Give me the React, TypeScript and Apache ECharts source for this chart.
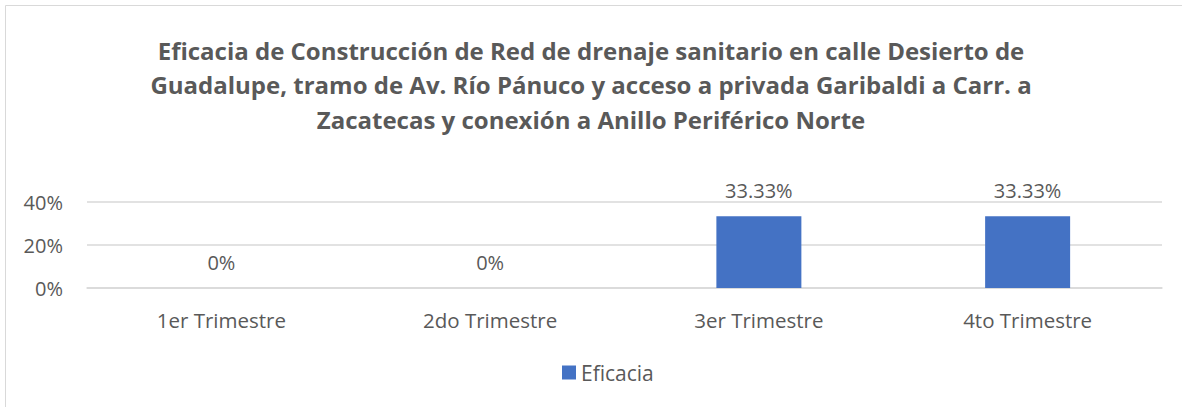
import React, { useEffect, useRef } from "react";
import * as echarts from "echarts";

const categories = ["1er Trimestre", "2do Trimestre", "3er Trimestre", "4to Trimestre"];
const eficacia = [0, 0, 33.33, 33.33];
const titleLines = [
  "Eficacia de Construcción de Red de drenaje sanitario en calle Desierto de",
  "Guadalupe, tramo de Av. Río Pánuco y acceso a privada Garibaldi a Carr. a",
  "Zacatecas y conexión a Anillo Periférico Norte",
];
const seriesName = "Eficacia";

const FONT = "'Open Sans', 'Noto Sans', sans-serif";
const GRAY = "#595959";

export default function App() {
  const ref = useRef<HTMLDivElement>(null);
  useEffect(() => {
    document.body.style.margin = "0";
    if (!ref.current) return;
    const chart = echarts.init(ref.current, null, { renderer: "svg" });
    chart.setOption({
      animation: false,
      backgroundColor: "#ffffff",
      title: {
        text: titleLines.join("\n"),
        left: "center",
        top: 28,
        textStyle: {
          fontFamily: FONT,
          fontSize: 24,
          fontWeight: "bold",
          color: GRAY,
          lineHeight: 34.5,
        },
      },
      graphic: [
        {
          type: "rect",
          shape: { x: 5.5, y: 5.5, width: 1400, height: 600 },
          style: { fill: "none", stroke: "#d9d9d9", lineWidth: 1 },
          silent: true,
          z: -1,
        },
      ],
      legend: {
        bottom: 19,
        left: 557,
        itemWidth: 14,
        itemHeight: 14,
        itemGap: 6,
        icon: "rect",
        textStyle: { fontFamily: FONT, fontSize: 21, color: GRAY },
        data: [seriesName],
      },
      grid: { left: 87, right: 20, top: 202, bottom: 119, containLabel: false },
      xAxis: {
        type: "category",
        data: categories,
        axisLine: { lineStyle: { color: "#d9d9d9", width: 1.5 } },
        axisTick: { show: false },
        axisLabel: { fontFamily: FONT, fontSize: 20.5, color: GRAY, margin: 21 },
      },
      yAxis: {
        type: "value",
        min: 0,
        max: 40,
        interval: 20,
        axisLine: { show: false },
        axisTick: { show: false },
        splitLine: { lineStyle: { color: "#d9d9d9", width: 1.5 } },
        axisLabel: {
          fontFamily: FONT,
          fontSize: 20,
          color: GRAY,
          margin: 24,
          formatter: "{value}%",
        },
      },
      series: [
        {
          name: seriesName,
          type: "bar",
          data: eficacia,
          barWidth: 85,
          itemStyle: { color: "#4472C4" },
          label: {
            show: true,
            position: "top",
            distance: 16,
            fontFamily: FONT,
            fontSize: 20,
            color: GRAY,
            formatter: (p: any) => `${p.value}%`,
          },
        },
      ],
    });
    return () => chart.dispose();
  }, []);
  return <div ref={ref} style={{ width: 1182, height: 407 }} />;
}
